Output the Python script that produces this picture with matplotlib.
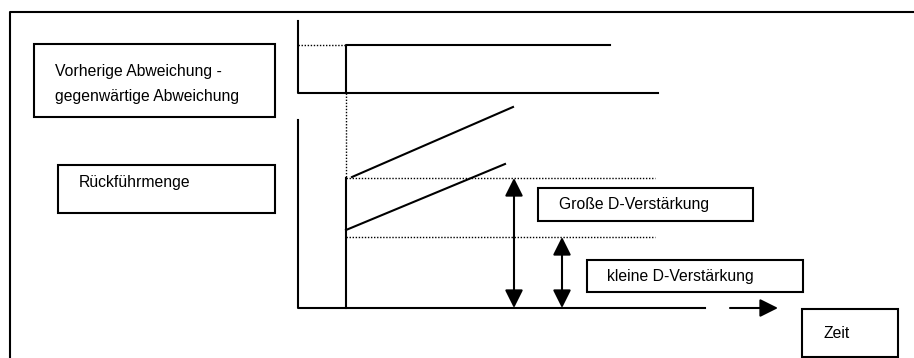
import matplotlib
matplotlib.use("Agg")
import matplotlib.pyplot as plt
from matplotlib.patches import Rectangle

plt.rcParams['font.family'] = ['Liberation Sans', 'DejaVu Sans']

# Beschriftungen
labels = ["Vorherige Abweichung -\ngegenwärtige Abweichung", "Rückführmenge",
          "Große D-Verstärkung", "kleine D-Verstärkung", "Zeit"]
# Kästen: x, y, Breite, Höhe (Pixel, y nach unten)
boxes = [(34, 44, 241, 73), (58, 165, 217, 48), (538, 188, 215, 33),
         (587, 260, 216, 32), (802, 309, 96, 48)]
text_pos = [(55, 84), (79, 182), (559, 205), (607, 277), (823, 334)]

# oberes Diagramm: Abweichung (Sprung)
t_step = 346
top_axis_x = [298, 298, 658]
top_axis_y = [21, 93, 93]
step_x = [t_step, t_step, 610]
step_y = [93, 45, 45]

# unteres Diagramm: Rückführmenge
low_axis_x = [298, 298, 705]
low_axis_y = [120, 308, 308]
big_gain = [(352, 177), (513, 107)]
small_gain = [(346, 230), (505, 164)]
level_big = 178
level_small = 237
arrow_x_big = 514
arrow_x_small = 562

fig = plt.figure(figsize=(9.14, 3.58), dpi=100)
ax = fig.add_axes([0, 0, 1, 1])
ax.set_xlim(0, 914)
ax.set_ylim(358, 0)
ax.axis('off')

lw = 1.5
# Rahmen (nur oben und links)
ax.plot([10, 10, 914], [358, 12, 12], color='black', lw=lw)

ax.plot(top_axis_x, top_axis_y, color='black', lw=lw)
ax.plot(step_x, step_y, color='black', lw=lw)
ax.plot([298, t_step], [45, 45], color='black', lw=1, ls=(0, (1, 1.2)))
ax.plot([t_step, t_step], [93, 178], color='black', lw=1, ls=(0, (1, 1.2)))

ax.plot(low_axis_x, low_axis_y, color='black', lw=lw)
ax.plot([t_step, t_step], [178, 308], color='black', lw=lw)
ax.plot(*zip(*big_gain), color='black', lw=lw)
ax.plot(*zip(*small_gain), color='black', lw=lw)
ax.plot([t_step, 655], [level_big, level_big], color='black', lw=1, ls=(0, (1, 1.2)))
ax.plot([t_step, 655], [level_small, level_small], color='black', lw=1, ls=(0, (1, 1.2)))

# Doppelpfeile
for xa, ya in [(arrow_x_big, level_big), (arrow_x_small, level_small)]:
    ax.annotate('', xy=(xa, ya), xytext=(xa, 308),
                arrowprops=dict(arrowstyle='<|-|>,head_length=1.1,head_width=0.55',
                                color='black', lw=lw, shrinkA=0, shrinkB=0))
# Zeitpfeil
ax.annotate('', xy=(778, 308), xytext=(730, 308),
            arrowprops=dict(arrowstyle='-|>,head_length=1.1,head_width=0.55',
                            color='black', lw=lw, shrinkA=0, shrinkB=0))

for (x, y, w, h) in boxes:
    ax.add_patch(Rectangle((x, y), w, h, fill=False, edgecolor='black', lw=lw))
for lab, (x, y) in zip(labels, text_pos):
    ax.text(x, y, lab, fontsize=11.3, ha='left', va='center', linespacing=1.85)

fig.savefig('out.png', dpi=100)
